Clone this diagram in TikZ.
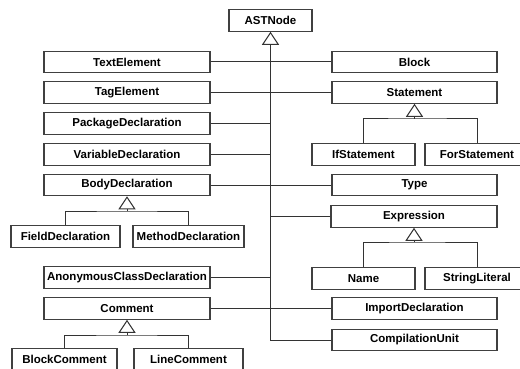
\documentclass[tikz,border=0pt]{standalone}
\usepackage{fontspec}
\setmainfont{Liberation Sans}
\usetikzlibrary{arrows.meta}
\begin{document}
\begin{tikzpicture}[x=1pt,y=-1pt,
  cls/.style={draw=black!75, line width=1.1pt, fill=white, inner sep=0pt,
    minimum height=21.5pt, font=\fontsize{11.5}{13}\selectfont\bfseries},
  wide/.style={cls, minimum width=166pt},
  narrow/.style={cls, minimum width=106pt},
  link/.style={draw=black!80, line width=1pt},
  inh/.style={link, -{Triangle[open, length=13pt, width=17pt, line width=1pt]}}]
\useasboundingbox (0,0) rectangle (520,369);
\fill[white] (0,0) rectangle (520,369);

% root
\node[cls, minimum width=83pt] (ast) at (270.5,20.5) {ASTNode};

% left column
\node[wide] (text) at (127,62) {TextElement};
\node[wide] (tag)  at (127,92.5) {TagElement};
\node[wide] (pkg)  at (127,123.5) {PackageDeclaration};
\node[wide] (var)  at (127,154.5) {VariableDeclaration};
\node[wide] (body) at (127,185) {BodyDeclaration};
\node[narrow, minimum width=109pt] (field)  at (65.5,236.5) {FieldDeclaration};
\node[narrow, minimum width=111pt] (method) at (188.5,236.5) {MethodDeclaration};
\node[wide] (anon) at (127,277.5) {AnonymousClassDeclaration};
\node[wide] (comm) at (127,308.5) {Comment};
\node[narrow, minimum width=105pt] (bcom) at (64.5,359.5) {BlockComment};
\node[narrow, minimum width=109pt] (lcom) at (188.5,359.5) {LineComment};

% right column
\node[wide, minimum width=165pt] (block) at (414.5,62) {Block};
\node[wide, minimum width=165pt] (stmt)  at (414.5,92.5) {Statement};
\node[narrow, minimum width=103pt] (ifs)  at (363.5,154.5) {IfStatement};
\node[narrow, minimum width=104pt] (fors) at (477,154.5) {ForStatement};
\node[wide, minimum width=165pt] (type)  at (414.5,185) {Type};
\node[wide, minimum width=166pt] (expr)  at (414,216.5) {Expression};
\node[narrow, minimum width=103pt] (name) at (363.5,278.5) {Name};
\node[narrow, minimum width=104pt] (str)  at (477,278.5) {StringLiteral};
\node[wide, minimum width=165pt] (imp)   at (414.5,308.5) {ImportDeclaration};
\node[wide, minimum width=165pt] (cu)    at (414.5,340) {CompilationUnit};

% trunk to the root
\draw[inh] (cu.west) -| (ast.south);
\foreach \n in {text,tag,pkg,var,body,anon,comm}
  \draw[link] (\n.east) -- (\n.east -| ast.south);
\foreach \n in {block,stmt,type,expr,imp}
  \draw[link] (\n.west) -- (\n.west -| ast.south);

% subclass groups
\coordinate (bodybar) at (127,211);
\draw[link] (field.north) |- (bodybar) -| (method.north);
\draw[inh] (bodybar) -- (body.south);

\coordinate (commbar) at (127,335);
\draw[link] (bcom.north) |- (commbar) -| (lcom.north);
\draw[inh] (commbar) -- (comm.south);

\coordinate (stmtbar) at (414.5,119);
\draw[link] (ifs.north -| 363,0) |- (stmtbar) -| (fors.north);
\draw[inh] (stmtbar) -- (stmt.south);

\coordinate (exprbar) at (414,242);
\draw[link] (name.north -| 363,0) |- (exprbar) -| (str.north);
\draw[inh] (exprbar) -- (expr.south);
\end{tikzpicture}
\end{document}
